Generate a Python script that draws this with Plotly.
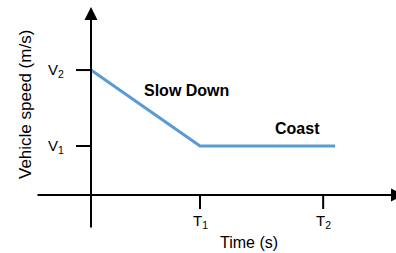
import plotly.graph_objects as go

# ---- data ----
time_vals = [0.0, 1.0, 2.24]          # start, T1, end of coast
speed_vals = [2.55, 1.0, 1.0]         # V2 -> V1 -> V1
x_tick_vals = [1.0, 2.13]
x_tick_text = ["T<sub>1</sub>", "T<sub>2</sub>"]
y_tick_vals = [2.55, 1.0]
y_tick_text = ["V<sub>2</sub>", "V<sub>1</sub>"]
segment_labels = ["Slow Down", "Coast"]

W, H = 396, 253
X0_PX, XS = 91, 109.0   # pixel of t=0, px per unit time
Y0_PX, YS = 195, 49.0   # pixel of v=0, px per unit speed

def px2x(p):
    return (p - X0_PX) / XS

def px2y(p):
    return (Y0_PX - p) / YS

FONT = "Liberation Sans, Arial, sans-serif"
BLUE = "#5B9BD5"

fig = go.Figure()
fig.add_trace(go.Scatter(x=time_vals, y=speed_vals, mode="lines",
                         line=dict(color=BLUE, width=3), hoverinfo="skip",
                         showlegend=False))

shapes = []
annotations = []

# axes with arrows
annotations.append(dict(x=0, y=px2y(7), ax=0, ay=px2y(229), xref="x", yref="y",
                        axref="x", ayref="y", text="", showarrow=True,
                        arrowhead=2, arrowsize=1.3, arrowwidth=2, arrowcolor="black"))
annotations.append(dict(x=px2x(404), y=0, ax=px2x(36), ay=0, xref="x", yref="y",
                        axref="x", ayref="y", text="", showarrow=True,
                        arrowhead=2, arrowsize=1.3, arrowwidth=2, arrowcolor="black"))

# ticks and tick labels
for v, t in zip(y_tick_vals, y_tick_text):
    shapes.append(dict(type="line", xref="x", yref="y", x0=px2x(76), x1=0, y0=v, y1=v,
                       line=dict(color="black", width=2)))
    annotations.append(dict(x=px2x(66), y=v, xref="x", yref="y", text=t, showarrow=False,
                            xanchor="right", yanchor="middle",
                            font=dict(family=FONT, size=15, color="black")))
for xv, t in zip(x_tick_vals, x_tick_text):
    shapes.append(dict(type="line", xref="x", yref="y", x0=xv, x1=xv, y0=0, y1=px2y(209),
                       line=dict(color="black", width=2)))
    annotations.append(dict(x=xv, y=px2y(210), xref="x", yref="y", text=t, showarrow=False,
                            xanchor="center", yanchor="top",
                            font=dict(family=FONT, size=15, color="black")))

# axis titles
annotations.append(dict(x=px2x(249), y=px2y(242), xref="x", yref="y", text="Time (s)",
                        showarrow=False, xanchor="center", yanchor="middle",
                        font=dict(family=FONT, size=16, color="black")))
annotations.append(dict(x=px2x(25), y=px2y(105), xref="x", yref="y",
                        text="Vehicle speed (m/s)", textangle=-90,
                        showarrow=False, xanchor="center", yanchor="middle",
                        font=dict(family=FONT, size=17, color="black")))

# segment labels
annotations.append(dict(x=px2x(142), y=px2y(90), xref="x", yref="y",
                        text="<b>" + segment_labels[0] + "</b>", showarrow=False,
                        xanchor="left", yanchor="middle",
                        font=dict(family=FONT, size=16, color="black")))
annotations.append(dict(x=px2x(273), y=px2y(128), xref="x", yref="y",
                        text="<b>" + segment_labels[1] + "</b>", showarrow=False,
                        xanchor="left", yanchor="middle",
                        font=dict(family=FONT, size=16, color="black")))

fig.update_layout(
    width=W, height=H, margin=dict(l=0, r=0, t=0, b=0),
    paper_bgcolor="white", plot_bgcolor="white",
    xaxis=dict(range=[px2x(0), px2x(W)], visible=False, fixedrange=True),
    yaxis=dict(range=[px2y(H), px2y(0)], visible=False, fixedrange=True),
    shapes=shapes, annotations=annotations,
)

fig.write_html("out.html", config={"displayModeBar": False},
               post_script="document.body.style.margin='0';document.body.style.overflow='hidden';")
